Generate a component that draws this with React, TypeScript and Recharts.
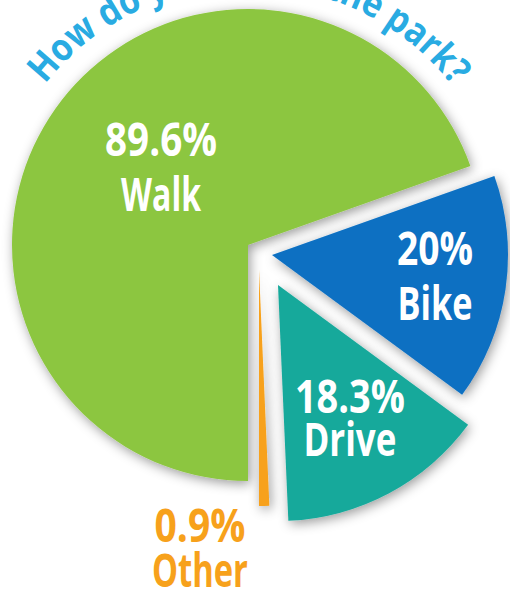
import React from 'react';
import { PieChart, Pie, Cell } from 'recharts';

const modes = ['Walk', 'Bike', 'Drive', 'Other'];
const shares = [89.6, 20, 18.3, 0.9];
const shareLabels = ['89.6%', '20%', '18.3%', '0.9%'];
const title = 'How do you get to the park?';

const sliceData = modes.map((name, i) => ({ name, value: shares[i] }));

const COLORS = ['#8cc63f', '#0a6fc2', '#17a99b', '#f7a11b'];
const LABEL_COLORS = ['#ffffff', '#ffffff', '#ffffff', '#f7a11b'];
const FONT = "'Open Sans', 'Noto Sans', sans-serif";

const CX = 248;
const CY = 245;
const R = 236;
// exploded slices get nudged away from the centre
const OFFSETS = [
  [0, 0],
  [24, 10],
  [30, 40],
  [11, 25],
];
// label anchor: fraction of radius, extra turn from mid angle, line gap,
// and squeezed widths of the two lines (the original face is condensed)
const LABEL_POS = [
  { r: 0.451, turn: 0, gap: 55, w: [112, 80] },
  { r: 0.709, turn: -4.6, gap: 55, w: [76, 75] },
  { r: 0.703, turn: -2.4, gap: 43, w: [110, 93] },
  { r: 1.273, turn: -12.6, gap: 45, w: [91, 96] },
];

const TITLE_R = 259;
const TITLE_FROM = 141.6;
const TITLE_TO = 37.9;
const arcPoint = (deg: number) => {
  const a = (deg * Math.PI) / 180;
  return [CX + TITLE_R * Math.cos(a), CY - TITLE_R * Math.sin(a)];
};
const [sx, sy] = arcPoint(TITLE_FROM);
const [ex, ey] = arcPoint(TITLE_TO);
const titleArc = `M ${sx} ${sy} A ${TITLE_R} ${TITLE_R} 0 0 1 ${ex} ${ey}`;
const titleLen = (((TITLE_FROM - TITLE_TO) * Math.PI) / 180) * TITLE_R;

const makeLabel = (slot: number) => (props: any) => {
  if (props.index !== slot) return null;
  const pos = LABEL_POS[slot];
  const a = ((props.midAngle + pos.turn) * Math.PI) / 180;
  const x = props.cx + Math.cos(a) * props.outerRadius * pos.r;
  const y = props.cy - Math.sin(a) * props.outerRadius * pos.r;
  const common = {
    textAnchor: 'middle' as const,
    fill: LABEL_COLORS[slot],
    fontFamily: FONT,
    fontWeight: 'bold',
    fontSize: 46,
    lengthAdjust: 'spacingAndGlyphs',
  };
  return (
    <g>
      <text x={x} y={y - pos.gap / 2} textLength={pos.w[0]} {...common}>
        {shareLabels[slot]}
      </text>
      <text x={x} y={y + pos.gap / 2} textLength={pos.w[1]} {...common}>
        {modes[slot]}
      </text>
    </g>
  );
};

const App: React.FC = () => {
  return (
    <div style={{ position: 'absolute', left: 0, top: 0, width: 510, height: 594, background: '#fff' }}>
      <PieChart width={510} height={594} margin={{ top: 0, right: 0, bottom: 0, left: 0 }}>
        <defs>
          <filter id="sliceShadow" filterUnits="userSpaceOnUse" x={0} y={0} width={510} height={594}>
            <feDropShadow dx={2} dy={3} stdDeviation={6} floodColor="#000" floodOpacity={0.4} />
          </filter>
          <path id="titleArc" d={titleArc} fill="none" />
        </defs>
        <text fill="#29abe2" fontFamily={FONT} fontWeight="bold" fontSize={38}>
          <textPath href="#titleArc" textLength={titleLen} lengthAdjust="spacingAndGlyphs">
            {title}
          </textPath>
        </text>
        {modes.map((m, k) => (
          <Pie
            key={m}
            data={sliceData}
            dataKey="value"
            nameKey="name"
            cx={CX + OFFSETS[k][0]}
            cy={CY + OFFSETS[k][1]}
            outerRadius={R}
            startAngle={270}
            endAngle={-90}
            stroke="none"
            labelLine={false}
            label={makeLabel(k)}
            isAnimationActive={false}
          >
            {sliceData.map((d, i) => (
              <Cell
                key={d.name}
                fill={i === k ? COLORS[i] : 'none'}
                filter={i === k ? 'url(#sliceShadow)' : undefined}
              />
            ))}
          </Pie>
        ))}
      </PieChart>
    </div>
  );
};

export default App;
